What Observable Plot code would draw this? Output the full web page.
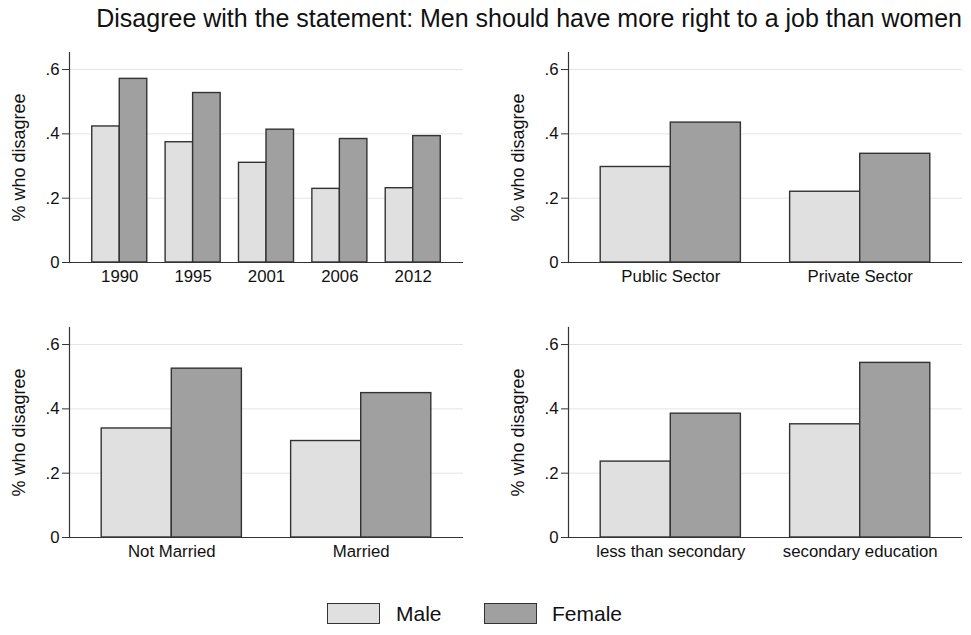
<!DOCTYPE html>
<html>
<head>
<meta charset="utf-8">
<script src="https://cdn.jsdelivr.net/npm/d3@7"></script>
<script src="https://cdn.jsdelivr.net/npm/@observablehq/plot@0.6"></script>
<style>
  html, body { margin: 0; padding: 0; background: #fff; }
  body { width: 971px; height: 635px; position: relative; overflow: hidden; font-family: "Liberation Sans", Arial, Helvetica, sans-serif; }
  .panel { position: absolute; }
  #title { position: absolute; right: 9px; top: 3px; font-size: 25px; line-height: 30px; color: #111; white-space: nowrap; }
  #legend { position: absolute; left: 0; top: 603px; width: 971px; height: 24px; }
  .sw { position: absolute; top: 0; width: 51px; height: 19px; border: 1.5px solid #333; }
  .lt { position: absolute; top: -1px; font-size: 21px; color: #111; line-height: 24px; }
</style>
</head>
<body>
<div id="title">Disagree with the statement: Men should have more right to a job than women</div>
<div id="p1" class="panel" style="left:0px; top:40px"></div>
<div id="p2" class="panel" style="left:499px; top:40px"></div>
<div id="p3" class="panel" style="left:0px; top:315px"></div>
<div id="p4" class="panel" style="left:499px; top:315px"></div>
<div id="legend">
  <div class="sw" style="left:327px; background:#e0e0e0"></div>
  <div class="lt" style="left:396px">Male</div>
  <div class="sw" style="left:484px; background:#a0a0a0"></div>
  <div class="lt" style="left:552px">Female</div>
</div>
<script>
// ---- data ----
const years = ["1990", "1995", "2001", "2006", "2012"];
const yearMale = [0.423, 0.374, 0.310, 0.229, 0.231];
const yearFemale = [0.571, 0.527, 0.413, 0.384, 0.393];

const sectors = ["Public Sector", "Private Sector"];
const sectorMale = [0.297, 0.220];
const sectorFemale = [0.435, 0.338];

const marital = ["Not Married", "Married"];
const maritalMale = [0.339, 0.300];
const maritalFemale = [0.525, 0.449];

const education = ["less than secondary", "secondary education"];
const educationMale = [0.236, 0.352];
const educationFemale = [0.385, 0.543];

const yTicks = [0, 0.2, 0.4, 0.6];
const yLabel = "% who disagree";
const seriesNames = ["Male", "Female"];

// ---- drawing ----
const MALE_FILL = "#e0e0e0", FEMALE_FILL = "#a0a0a0", EDGE = "#333";
const W = 470, H = 252, ML = 69, MR = 7, MT = 12, MB = 30;

function panel(el, cats, male, female, pInner, pOuter) {
  const rows = cats.map((c, i) => ({cat: c, male: male[i], female: female[i]}));
  const inner = W - ML - MR;
  const step = inner / (cats.length - pInner + 2 * pOuter);
  const bw = step * (1 - pInner);
  const chart = Plot.plot({
    width: W, height: H,
    marginLeft: ML, marginRight: MR, marginTop: MT, marginBottom: MB,
    style: {fontFamily: "Liberation Sans, Arial, Helvetica, sans-serif", fontSize: "16.8px", color: "#111", background: "#fff"},
    x: {type: "band", domain: cats, paddingInner: pInner, paddingOuter: pOuter, round: false},
    y: {domain: [0, 0.653]},
    marks: [
      Plot.gridY(yTicks.slice(1), {stroke: "#e4e4e4", strokeOpacity: 1, strokeWidth: 1}),
      Plot.barY(rows, {x: "cat", y: "male", insetRight: bw / 2, fill: MALE_FILL, stroke: EDGE, strokeWidth: 1.4}),
      Plot.barY(rows, {x: "cat", y: "female", insetLeft: bw / 2, fill: FEMALE_FILL, stroke: EDGE, strokeWidth: 1.4}),
      Plot.ruleY([0], {stroke: EDGE, strokeWidth: 1.2}),
      Plot.frame({anchor: "left", stroke: EDGE, strokeWidth: 1.2}),
      Plot.axisY({ticks: yTicks, tickSize: 7, tickPadding: 3, stroke: EDGE,
        tickFormat: d => d === 0 ? "0" : d3.format(".1f")(d).replace(/^0/, ""), label: null, fontSize: 16.8}),
      Plot.axisY({ticks: [], label: yLabel, labelArrow: "none", labelAnchor: "center", labelOffset: 57, fontSize: 18}),
      Plot.axisX({tickSize: 0, tickPadding: 8, label: null, fontSize: 16.8})
    ]
  });
  document.getElementById(el).appendChild(chart);
}

panel("p1", years, yearMale, yearFemale, 0.25, 0.31);
panel("p2", sectors, sectorMale, sectorFemale, 0.26, 0.17);
panel("p3", marital, maritalMale, maritalFemale, 0.26, 0.17);
panel("p4", education, educationMale, educationFemale, 0.26, 0.17);
</script>
</body>
</html>
